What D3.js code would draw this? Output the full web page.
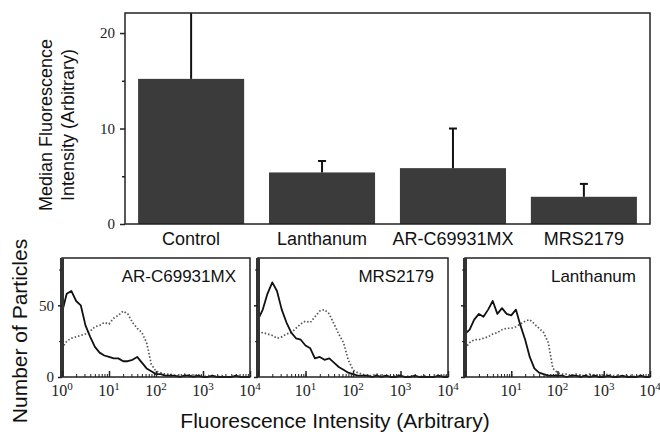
<!DOCTYPE html>
<html lang="en">
<head>
  <meta charset="utf-8">
  <title>Median fluorescence and histograms</title>
  <script src="https://d3js.org/d3.v7.min.js"></script>
  <style>
    body { margin: 0; background: #fff; }
    svg { display: block; }
    .sans { font-family: "Liberation Sans", Arial, Helvetica, sans-serif; }
    .serif { font-family: "Liberation Serif", "Times New Roman", serif; }
  </style>
</head>
<body>
<script>
  // ---- Bar chart data (top) ----
  const categories = ["Control", "Lanthanum", "AR-C69931MX", "MRS2179"];
  const medians = [15.2, 5.4, 5.85, 2.85];
  const errorTops = [23.5, 6.6, 10.0, 4.2];
  const barTicks = [0, 10, 20];
  const barMinorTicks = [5, 15];

  // ---- Histogram data (bottom) ----
  // channel intensities shared by every histogram (0.1 decade bins)
  const binIntensity = [1, 1.26, 1.58, 2.0, 2.51, 3.16, 3.98, 5.01, 6.31, 7.94,
    10, 12.6, 15.8, 20.0, 25.1, 31.6, 39.8, 50.1, 63.1, 79.4,
    100, 126, 158, 200, 251, 316, 398, 501, 631, 794,
    1000, 1259, 1585, 1995, 2512, 3162, 3981, 5012, 6310, 7943, 10000];

  const panelNames = ["AR-C69931MX", "MRS2179", "Lanthanum"];

  // treated sample (solid line)
  const arSolid = [45, 58, 60, 53, 50, 36, 28, 21, 17, 15,
    14, 13, 13, 11, 11, 12, 14, 10, 6, 4,
    2, 2, 1, 1, 1, 0, 1, 1, 0, 1,
    0, 0, 1, 0, 0, 0, 0, 1, 0, 0, 0];
  const mrsSolid = [40, 47, 58, 66, 60, 47, 38, 31, 27, 26,
    22, 20, 13, 14, 12, 13, 10, 7, 5, 3,
    2, 1, 1, 1, 0, 1, 0, 1, 0, 0,
    1, 0, 0, 1, 0, 0, 0, 0, 1, 0, 0];
  const lanSolid = [30, 33, 40, 44, 42, 47, 53, 44, 48, 44,
    43, 47, 36, 26, 14, 6, 3, 2, 1, 1,
    1, 1, 0, 1, 1, 0, 1, 0, 1, 0,
    0, 1, 0, 0, 1, 0, 0, 0, 1, 0, 0];

  // control sample (dotted line)
  const arDotted = [20, 25, 27, 28, 29, 30, 32, 35, 36, 38,
    37, 41, 43, 46, 44, 38, 34, 31, 24, 9,
    4, 3, 2, 2, 1, 1, 2, 1, 1, 1,
    0, 1, 1, 0, 1, 0, 0, 1, 0, 0, 0];
  const mrsDotted = [30, 31, 30, 29, 27, 28, 30, 31, 34, 37,
    39, 38, 42, 46, 47, 44, 37, 30, 24, 12,
    5, 3, 2, 1, 1, 2, 1, 1, 0, 1,
    1, 0, 1, 0, 0, 1, 0, 0, 0, 1, 0];
  const lanDotted = [20, 24, 26, 26, 27, 28, 30, 31, 33, 34,
    34, 35, 37, 39, 40, 37, 34, 31, 24, 6,
    3, 2, 2, 1, 2, 1, 1, 2, 1, 1,
    1, 2, 1, 1, 0, 1, 1, 0, 1, 0, 0];

  const histTicksY = [0, 50];
  const histMinorY = [25, 75];
  const decades = [1, 10, 100, 1000, 10000];
  const decadeExp = ["0", "1", "2", "3", "4"];

  const W = 660, H = 437;
  const svg = d3.select("body").append("svg")
    .attr("width", W).attr("height", H)
    .attr("viewBox", [0, 0, W, H]);

  // ================= Top bar chart =================
  const barBox = { left: 125, right: 650, top: 13, bottom: 224 };

  const x = d3.scaleBand()
    .domain(categories)
    .range([barBox.left, barBox.right])
    .paddingInner(0.19)
    .paddingOuter(0.1);

  const y = d3.scaleLinear()
    .domain([0, 22.1])
    .range([barBox.bottom, barBox.top]);

  const bars = categories.map((c, i) => ({ name: c, value: medians[i], err: errorTops[i] }));

  svg.selectAll("rect.bar")
    .data(bars)
    .enter()
    .append("rect")
    .attr("class", "bar")
    .attr("x", d => x(d.name))
    .attr("y", d => y(d.value))
    .attr("width", x.bandwidth())
    .attr("height", d => y(0) - y(d.value))
    .attr("fill", "#3b3b3b");

  // error bars (clipped to frame)
  const ymax = y.domain()[1];
  svg.selectAll("line.err")
    .data(bars)
    .enter()
    .append("line")
    .attr("x1", d => x(d.name) + x.bandwidth() / 2)
    .attr("x2", d => x(d.name) + x.bandwidth() / 2)
    .attr("y1", d => y(d.value))
    .attr("y2", d => y(Math.min(d.err, ymax)))
    .attr("stroke", "#111")
    .attr("stroke-width", 2);
  svg.selectAll("line.cap")
    .data(bars.filter(d => d.err < ymax))
    .enter()
    .append("line")
    .attr("x1", d => x(d.name) + x.bandwidth() / 2 - 4)
    .attr("x2", d => x(d.name) + x.bandwidth() / 2 + 4)
    .attr("y1", d => y(d.err))
    .attr("y2", d => y(d.err))
    .attr("stroke", "#111")
    .attr("stroke-width", 2);

  // frame
  svg.append("rect")
    .attr("x", barBox.left).attr("y", barBox.top)
    .attr("width", barBox.right - barBox.left).attr("height", barBox.bottom - barBox.top)
    .attr("fill", "none").attr("stroke", "#222").attr("stroke-width", 1.5);

  // y axis
  const yAxis = svg.append("g")
    .attr("transform", `translate(${barBox.left},0)`)
    .call(d3.axisLeft(y).tickValues(barTicks).tickSize(5).tickPadding(5))
    .call(g => g.select(".domain").remove());
  yAxis.selectAll("text")
    .attr("class", "serif")
    .attr("font-size", 15)
    .attr("fill", "#222");
  yAxis.selectAll("line").attr("stroke", "#222").attr("stroke-width", 1.5);
  svg.append("g")
    .attr("transform", `translate(${barBox.left},0)`)
    .call(d3.axisLeft(y).tickValues(barMinorTicks).tickSize(3).tickFormat(""))
    .call(g => g.select(".domain").remove())
    .selectAll("line").attr("stroke", "#222").attr("stroke-width", 1.5);

  // category labels
  svg.selectAll("text.cat")
    .data(categories)
    .enter()
    .append("text")
    .attr("class", "sans")
    .attr("x", d => x(d) + x.bandwidth() / 2)
    .attr("y", 245)
    .attr("text-anchor", "middle")
    .attr("font-size", 18)
    .attr("fill", "#111")
    .text(d => d);

  // y title (two lines)
  const yTitle = svg.append("text")
    .attr("class", "sans")
    .attr("transform", "translate(0,125) rotate(-90)")
    .attr("text-anchor", "middle")
    .attr("font-size", 18)
    .attr("fill", "#111");
  yTitle.append("tspan").attr("x", 0).attr("y", 52).text("Median Fluorescence");
  yTitle.append("tspan").attr("x", 0).attr("y", 74).text("Intensity (Arbitrary)");

  // ================= Bottom histograms =================
  const hTop = 258, hBottom = 377;
  const panels = [
    { name: panelNames[0], left: 62, right: 250, solid: arSolid, dotted: arDotted, first: true },
    { name: panelNames[1], left: 258, right: 448, solid: mrsSolid, dotted: mrsDotted, first: false },
    { name: panelNames[2], left: 465, right: 650, solid: lanSolid, dotted: lanDotted, first: false }
  ];

  const hy = d3.scaleLinear().domain([0, 83]).range([hBottom, hTop]);

  panels.forEach(p => {
    const hx = d3.scaleLog().domain([1, 10000]).range([p.left, p.right]);
    const g = svg.append("g");

    const line = d3.line()
      .x((d, i) => hx(binIntensity[i]))
      .y(d => hy(d));

    g.append("path")
      .datum(p.dotted)
      .attr("d", line)
      .attr("fill", "none")
      .attr("stroke", "#555")
      .attr("stroke-width", 1.7)
      .attr("stroke-dasharray", "1.5,2");

    g.append("path")
      .datum(p.solid)
      .attr("d", line)
      .attr("fill", "none")
      .attr("stroke", "#111")
      .attr("stroke-width", 1.8)
      .attr("stroke-linejoin", "round");

    // frame
    g.append("rect")
      .attr("x", p.left).attr("y", hTop)
      .attr("width", p.right - p.left).attr("height", hBottom - hTop)
      .attr("fill", "none").attr("stroke", "#222").attr("stroke-width", 1.5);
    // heavy left edge (first channel pile-up)
    g.append("line")
      .attr("x1", p.left).attr("x2", p.left)
      .attr("y1", hTop).attr("y2", hBottom)
      .attr("stroke", "#333").attr("stroke-width", 4);

    // x ticks (inward) with minor log ticks
    g.append("g")
      .attr("transform", `translate(0,${hBottom})`)
      .call(d3.axisTop(hx).ticks(10).tickSize(3).tickFormat(""))
      .call(a => a.select(".domain").remove())
      .selectAll("line").attr("stroke", "#222");
    g.append("g")
      .attr("transform", `translate(0,${hBottom})`)
      .call(d3.axisTop(hx).tickValues(decades).tickSize(6).tickFormat(""))
      .call(a => a.select(".domain").remove())
      .selectAll("line").attr("stroke", "#222").attr("stroke-width", 1.5);

    // y ticks
    const ya = g.append("g")
      .attr("transform", `translate(${p.left},0)`)
      .call(d3.axisLeft(hy).tickValues(histTicksY).tickSize(4).tickPadding(4)
        .tickFormat(p.first ? d3.format("d") : ""))
      .call(a => a.select(".domain").remove());
    ya.selectAll("line").attr("stroke", "#222").attr("stroke-width", 1.5);
    ya.selectAll("text").attr("class", "serif").attr("font-size", 15).attr("fill", "#222");
    g.append("g")
      .attr("transform", `translate(${p.left},0)`)
      .call(d3.axisLeft(hy).tickValues(histMinorY).tickSize(3).tickFormat(""))
      .call(a => a.select(".domain").remove())
      .selectAll("line").attr("stroke", "#222");

    // decade labels 10^n
    const labelled = decades.map((v, i) => ({ v, e: decadeExp[i] }))
      .filter(d => p.first || d.v > 1);
    const lab = g.selectAll("text.dec")
      .data(labelled)
      .enter()
      .append("text")
      .attr("class", "serif")
      .attr("x", d => hx(d.v))
      .attr("y", 396)
      .attr("text-anchor", "middle")
      .attr("font-size", 16)
      .attr("fill", "#222");
    lab.append("tspan").text("10");
    lab.append("tspan").attr("dy", -6).attr("font-size", 11).text(d => d.e);

    // panel name
    g.append("text")
      .attr("class", "sans")
      .attr("x", p.right - 14)
      .attr("y", hTop + 24)
      .attr("text-anchor", "end")
      .attr("font-size", 17)
      .attr("fill", "#111")
      .text(p.name);
  });

  // axis titles
  svg.append("text")
    .attr("class", "sans")
    .attr("transform", "translate(27,331) rotate(-90)")
    .attr("text-anchor", "middle")
    .attr("font-size", 21)
    .attr("fill", "#111")
    .text("Number of Particles");

  svg.append("text")
    .attr("class", "sans")
    .attr("x", 335)
    .attr("y", 428)
    .attr("text-anchor", "middle")
    .attr("font-size", 21)
    .attr("fill", "#111")
    .text("Fluorescence Intensity (Arbitrary)");
</script>
</body>
</html>
